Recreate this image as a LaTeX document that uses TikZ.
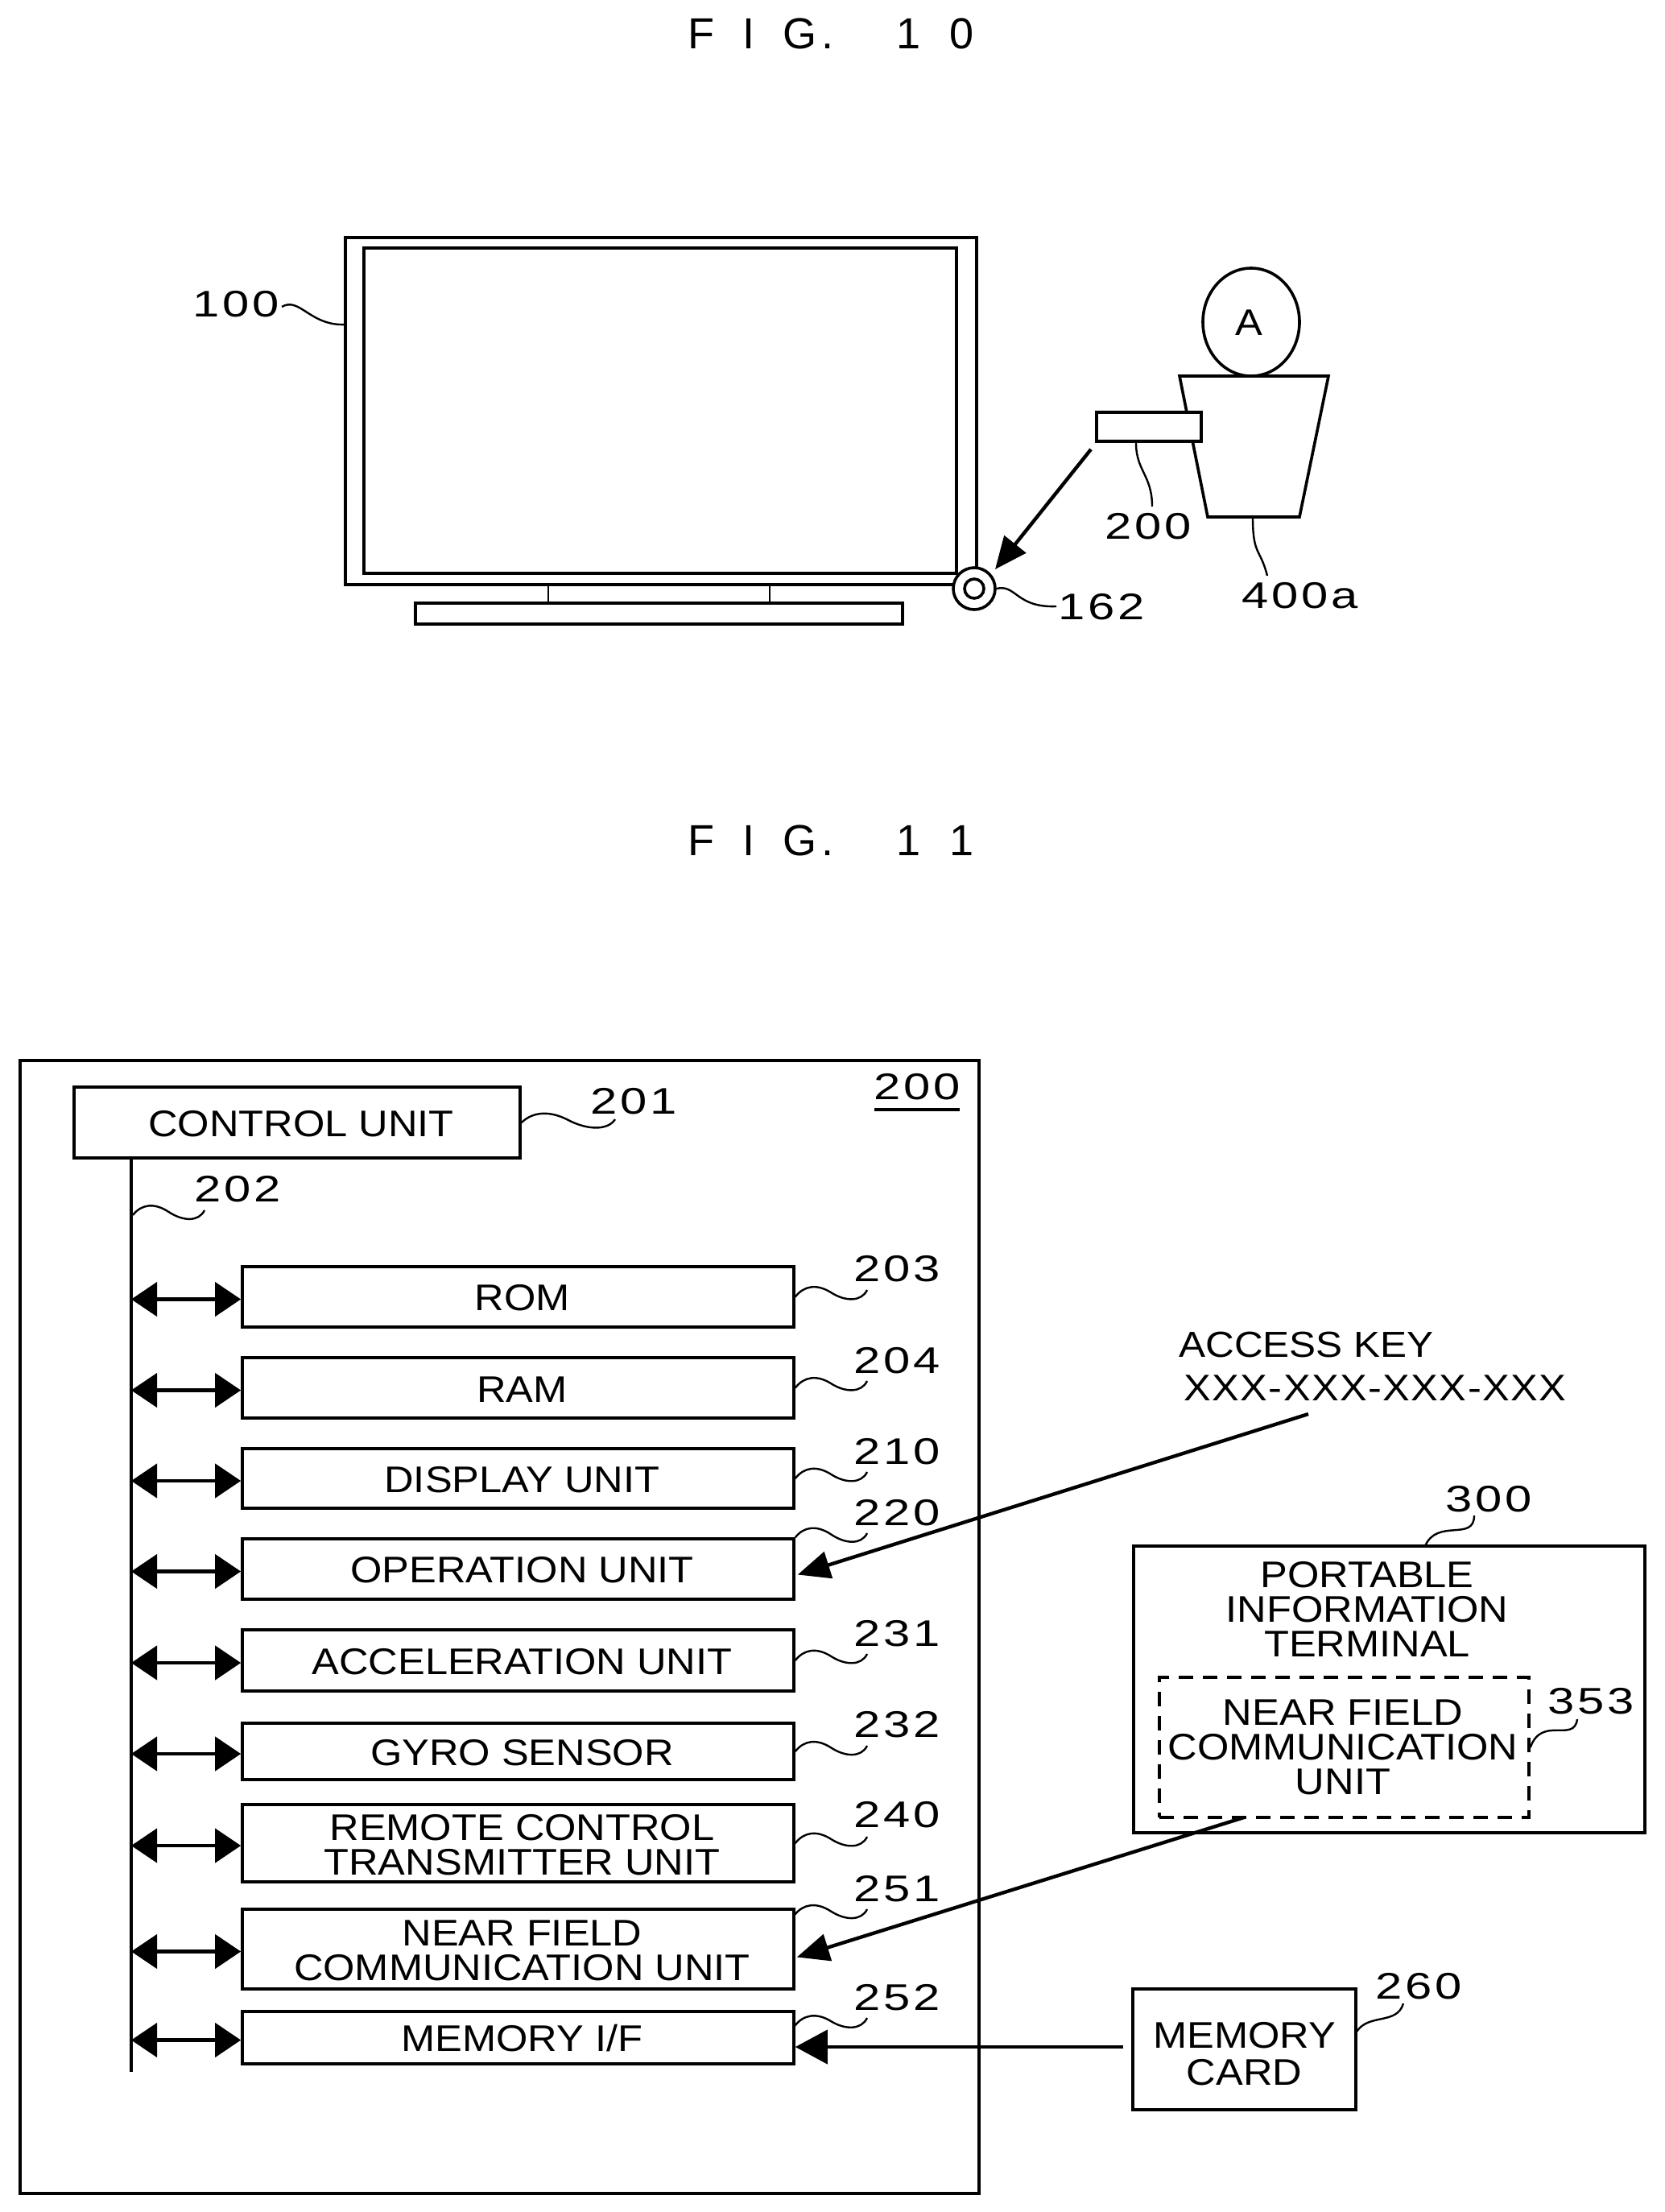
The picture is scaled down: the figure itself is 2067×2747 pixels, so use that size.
\documentclass[tikz,border=0pt]{standalone}
\usepackage{fontspec}
\setmainfont[FakeStretch=1.1]{Liberation Sans}
\newfontfamily\numf[FakeStretch=1.3,LetterSpace=8]{Liberation Sans}
\newfontfamily\akf[FakeStretch=1.1,LetterSpace=3]{Liberation Sans}
\newfontfamily\titf{Liberation Sans}
\newcommand{\mytitle}[1]{{\fontsize{27}{27}\titf\spaceskip=17.5pt\relax #1}}
\newcommand{\tsh}{\hspace*{5pt}}
\usetikzlibrary{arrows.meta,calc,shapes.geometric}
\newcommand{\wv}[2]{\draw[lead] (#1) .. controls ($(#1)!.12!(#2)+(0,-13)$) and ($(#1)!.30!(#2)+(0,-14)$) .. ($(#1)!.5!(#2)+(0,-1)$) .. controls ($(#1)!.70!(#2)+(0,12)$) and ($(#1)!.92!(#2)+(0,14)$) .. (#2);}
\tikzset{
  ln/.style={line width=1.8pt,draw=black},
  lead/.style={line width=1.2pt,draw=black},
  ubox/.style={ln,fill=white,inner sep=0pt,align=center,text height=17.6pt,font=\fontsize{23}{21.5}\selectfont},
  ubox2/.style={ubox,text height=39.2pt},
  txt/.style={inner sep=0pt,align=center,font=\fontsize{23}{21.5}\selectfont},
  num/.style={inner sep=0pt,font=\fontsize{23}{23}\numf},
  ttl/.style={inner sep=0pt},
  dbl/.style={line width=2.2pt,{Triangle[length=16pt,width=21pt]}-{Triangle[length=16pt,width=21pt]}},
  arr/.style={line width=2.2pt,-{Triangle[length=20pt,width=17pt]}},
  arrh/.style={line width=2.2pt,-{Triangle[length=20pt,width=21pt]}}
}
\begin{document}
\begin{tikzpicture}[x=0.5pt,y=-0.5pt]
\useasboundingbox (0,0) rectangle (2067,2747);
\fill[white] (0,0) rectangle (2067,2747);
% FIG 10
\node[ttl] (t10) at (1032,42) {\mytitle{F I G\kern3pt. \ \kern4pt1 0}};
\node[ln,inner sep=0pt,minimum width=392pt,minimum height=215.5pt] (tv) at (821,510.5) {};
\node[ln,inner sep=0pt,minimum width=368pt,minimum height=202pt] (screen) at (820,510) {};
\node[ln,inner sep=0pt,minimum width=302.5pt,minimum height=13pt] (stand) at (818.5,762) {};
\coordinate (nl) at (681,726); \coordinate (nr) at (956,726);
\draw[lead] (nl) -- (nl |- stand.north);
\draw[lead] (nr) -- (nr |- stand.north);
\node[ln,fill=white,circle,inner sep=0pt,minimum size=26pt] (cam) at (1210,731) {};
\node[ln,circle,inner sep=0pt,minimum size=12pt] (camin) at (1210,731) {};
\node[ln,ellipse,inner sep=0pt,minimum width=60pt,minimum height=67pt] (head) at (1554,400) {};
\node[txt] (la) at (1551,401) {A};
\coordinate (b1) at (1465,467); \coordinate (b2) at (1650,467);
\coordinate (b3) at (1614,642); \coordinate (b4) at (1500,642);
\draw[ln,fill=white] (b1) -- (b2) -- (b3) -- (b4) -- cycle;
\node[ln,fill=white,inner sep=0pt,minimum width=65pt,minimum height=18pt] (rc) at (1427,530) {};
\coordinate (as) at (1355,558); \coordinate (ae) at (1236,707);
\draw[arr] (as) -- (ae);
\node[num] (l100) at (293,378) {100};
\coordinate (e100) at (350,381);
\draw[lead] (e100) .. controls (372,368) and (385,405) .. (429,403);
\node[num] (l200a) at (1426,654) {200};
\coordinate (s200) at (1411,550); \coordinate (e200) at (1431,629);
\draw[lead] (s200) .. controls (1411,585) and (1431,590) .. (e200);
\node[num] (l400) at (1615,740) {400a};
\coordinate (e400) at (1574,715);
\draw[lead] (1556,642) .. controls (1556,690) and (1565,680) .. (e400);
\node[num] (l162) at (1368,754) {162};
\coordinate (e162) at (1312,753);
\draw[lead] (cam.east) .. controls (1262,725) and (1262,755) .. (e162);
% FIG 11
\node[ttl] (t11) at (1032,1044) {\mytitle{F I G\kern3pt. \ \kern4pt1 1}};
\node[ln,inner sep=0pt,minimum width=595.5pt,minimum height=703.5pt] (dev) at (620.5,2020.5) {};
\node[ubox,minimum width=277pt,minimum height=44pt] (ctl) at (369,1394) {\tsh CONTROL UNIT};
\node[num] (l201) at (787,1368) {201};
\coordinate (e201) at (764,1390);
\wv{ctl.east}{e201}
\node[num] (l200) at (1139,1350) {200};
\coordinate (u1) at (1086,1378); \coordinate (u2) at (1192,1378);
\draw[ln] (u1) -- (u2);
\coordinate (busT) at (163,1437); \coordinate (busB) at (163,2573);
\draw[ln] (ctl.south -| busT) -- (busB);
\node[num] (l202) at (295,1477) {202};
\coordinate (s202) at (165,1509); \coordinate (e202) at (254,1503);
\wv{s202}{e202}
\node[ubox,minimum width=342.5pt,minimum height=37.5pt] (rom) at (643.5,1610.5) {\tsh ROM};
\node[ubox,minimum width=342.5pt,minimum height=37.5pt] (ram) at (643.5,1723.5) {\tsh RAM};
\node[ubox,minimum width=342.5pt,minimum height=37pt] (disp) at (643.5,1836) {\tsh DISPLAY UNIT};
\node[ubox,minimum width=342.5pt,minimum height=37.5pt] (oper) at (643.5,1948.5) {\tsh OPERATION UNIT};
\node[ubox,minimum width=342.5pt,minimum height=38pt] (accel) at (643.5,2062) {\tsh ACCELERATION UNIT};
\node[ubox,minimum width=342.5pt,minimum height=35pt] (gyro) at (643.5,2175) {\tsh GYRO SENSOR};
\node[ubox2,minimum width=342.5pt,minimum height=48pt] (rem) at (643.5,2289) {\tsh REMOTE CONTROL\\\tsh TRANSMITTER UNIT};
\node[ubox2,minimum width=342.5pt,minimum height=49.5pt] (nfc) at (643.5,2420.5) {\tsh NEAR FIELD\\\tsh COMMUNICATION UNIT};
\node[ubox,minimum width=342.5pt,minimum height=32.5pt] (mem) at (643.5,2530.5) {\tsh MEMORY I/F};
\foreach \n in {rom,ram,disp,oper,accel,gyro,rem,nfc,mem}{
  \draw[dbl] ($(\n.west -| busT)+(0,3)$) -- ($(\n.west)+(0,3)$);
}
\node[num] (l203) at (1114,1576) {203};
\node[num] (l204) at (1114,1690) {204};
\node[num] (l210) at (1114,1803) {210};
\node[num] (l220) at (1114,1879) {220};
\node[num] (l231) at (1114,2029) {231};
\node[num] (l232) at (1114,2142) {232};
\node[num] (l240) at (1114,2254) {240};
\node[num] (l251) at (1114,2346) {251};
\node[num] (l252) at (1114,2481) {252};
\coordinate (e203) at (1077,1602);
\coordinate (e204) at (1077,1715);
\coordinate (e210) at (1077,1828);
\coordinate (e220) at (1077,1904);
\coordinate (e231) at (1077,2054);
\coordinate (e232) at (1077,2168);
\coordinate (e240) at (1077,2281);
\coordinate (e251) at (1077,2371);
\coordinate (e252) at (1077,2506);
\wv{rom.east}{e203}
\wv{ram.east}{e204}
\wv{disp.east}{e210}
\wv{oper.north east}{e220}
\wv{accel.east}{e231}
\wv{gyro.east}{e232}
\wv{rem.east}{e240}
\coordinate (s251) at (987,2378); \wv{s251}{e251}
\coordinate (s252) at (987,2516); \wv{s252}{e252}
% access key
\node[inner sep=0pt,anchor=west,font=\fontsize{22.5}{22.5}\selectfont] (ak1) at (1464,1670) {ACCESS KEY};
\node[inner sep=0pt,anchor=west,font=\fontsize{23}{23}\akf] (ak2) at (1470,1724) {XXX-XXX-XXX-XXX};
\coordinate (aks) at (1625,1756);
\draw[arr] (aks) -- ($(oper.east)+(3,7)$);
% portable terminal
\node[ln,inner sep=0pt,minimum width=317.5pt,minimum height=178pt] (pit) at (1725.5,2098) {};
\node[txt] (pitx) at (1698,1998) {PORTABLE\\INFORMATION\\TERMINAL};
\node[ln,dashed,dash pattern=on 9pt off 6pt,inner sep=0pt,minimum width=229.5pt,minimum height=87pt] (pnf) at (1669.5,2170) {};
\node[txt] (pnfx) at (1668,2170) {NEAR FIELD\\COMMUNICATION\\UNIT};
\node[num] (l300) at (1849,1862) {300};
\coordinate (e300) at (1831,1882);
\draw[lead] (e300) .. controls (1831,1915) and (1785,1885) .. (1770,1920);
\node[num] (l353) at (1976,2113) {353};
\coordinate (e353) at (1959,2135);
\draw[lead] (pnf.east) .. controls (1915,2130) and (1955,2165) .. (e353);
\coordinate (pnfs) at (1545,2257);
\draw[arr] (pnfs) -- ($(nfc.east)+(2,10)$);
% memory card
\node[ln,fill=white,inner sep=0pt,align=center,text height=44.5pt,font=\fontsize{23}{23}\selectfont,minimum width=138.5pt,minimum height=75pt] (card) at (1545.5,2545) {MEMORY\\CARD};
\coordinate (cs) at ($(card.west)+(-10,-3)$);
\draw[arrh] (cs) -- (cs -| mem.east);
\node[num] (l260) at (1762,2467) {260};
\coordinate (e260) at (1743,2488);
\draw[lead] (1685,2523) .. controls (1700,2500) and (1735,2515) .. (e260);
\end{tikzpicture}
\end{document}
